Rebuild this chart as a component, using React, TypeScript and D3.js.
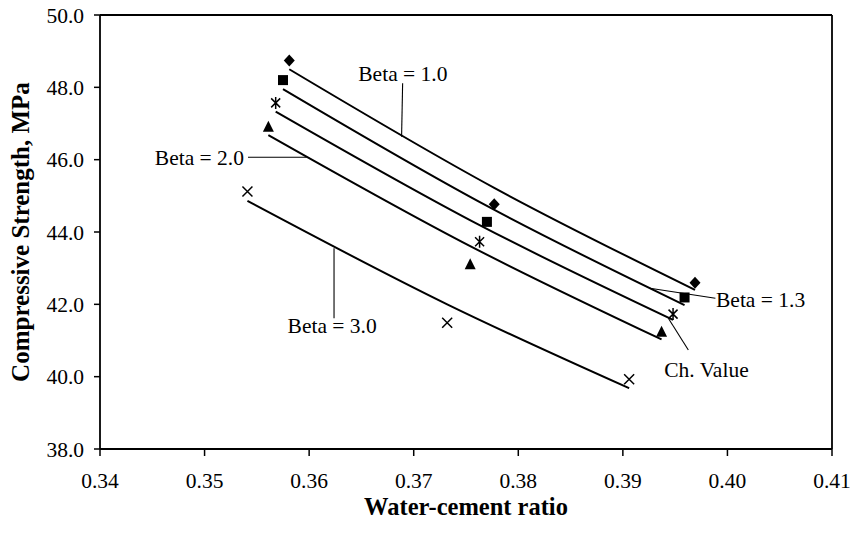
import React from "react";
import * as d3 from "d3";

// ---- data ----
const xTicks = [0.34, 0.35, 0.36, 0.37, 0.38, 0.39, 0.4, 0.41];
const yTicks = [38, 40, 42, 44, 46, 48, 50];

const diamondX = [0.3581, 0.3777, 0.3969];
const diamondY = [48.74, 44.77, 42.6];
const squareX = [0.3575, 0.377, 0.3959];
const squareY = [48.2, 44.28, 42.19];
const starX = [0.3568, 0.3763, 0.3948];
const starY = [47.57, 43.73, 41.73];
const triangleX = [0.3561, 0.3754, 0.3937];
const triangleY = [46.91, 43.11, 41.24];
const crossX = [0.3541, 0.3732, 0.3906];
const crossY = [45.12, 41.49, 39.93];

// fitted model lines (evaluated at the same w/c ratios)
const beta10Y = [48.5, 45.22, 42.4];
const beta13Y = [47.95, 44.72, 41.98];
const chValueY = [47.33, 44.19, 41.57];
const beta20Y = [46.68, 43.61, 41.03];
const beta30Y = [44.86, 42.0, 39.68];

// annotations: label, text anchor point, leader from -> to (data units)
const annLabels = ["Beta = 1.0", "Beta = 2.0", "Beta = 3.0", "Beta = 1.3", "Ch. Value"];
const annTextX = [0.3647, 0.35377, 0.35794, 0.39891, 0.39396];
const annTextY = [48.18, 45.853, 41.199, 41.935, 39.999];
const annAnchor = ["start", "end", "start", "start", "start"];
const annFromX = [0.36894, 0.35415, 0.36238, 0.39885, 0.39626];
const annFromY = [48.11, 46.065, 43.549, 42.167, 40.737];
const annToX = [0.36884, 0.35977, 0.36238, 0.39259, 0.39435];
const annToY = [46.635, 46.065, 41.614, 42.443, 41.614];

const W = 853;
const H = 540;
const M = { left: 100, right: 21, top: 15, bottom: 91 };
const FONT = "'Liberation Serif', 'Times New Roman', serif";

export default function App() {
  const x = d3.scaleLinear().domain([0.34, 0.41]).range([M.left, W - M.right]);
  const y = d3.scaleLinear().domain([38, 50]).range([H - M.bottom, M.top]);
  const line = d3
    .line<[number, number]>()
    .x((d) => x(d[0]))
    .y((d) => y(d[1]))
    .curve(d3.curveMonotoneX);

  const lines: [number[], number[]][] = [
    [diamondX, beta10Y],
    [squareX, beta13Y],
    [starX, chValueY],
    [triangleX, beta20Y],
    [crossX, beta30Y],
  ];

  const zip = (a: number[], b: number[]) => a.map((v, i) => [v, b[i]] as [number, number]);

  const x0 = x.range()[0];
  const x1 = x.range()[1];
  const y0 = y.range()[0];
  const y1 = y.range()[1];

  return (
    <svg
      width={W}
      height={H}
      style={{ position: "absolute", left: 0, top: 0, background: "#fff" }}
      fontFamily={FONT}
    >
      <rect x={0} y={0} width={W} height={H} fill="#fff" />
      {/* frame */}
      <line x1={x0} x2={x1} y1={y1} y2={y1} stroke="#000" strokeWidth={1.8} />
      <line x1={x1} x2={x1} y1={y1} y2={y0} stroke="#000" strokeWidth={1.8} />
      <line x1={x0} x2={x0} y1={y1} y2={y0} stroke="#000" strokeWidth={1.8} />
      <line x1={x0} x2={x1} y1={y0} y2={y0} stroke="#000" strokeWidth={1.8} />

      {/* y ticks */}
      {yTicks.map((t) => (
        <g key={"y" + t}>
          <line x1={x0 - 6} x2={x0} y1={y(t)} y2={y(t)} stroke="#000" strokeWidth={1.5} />
          <text x={x0 - 16} y={y(t)} dy="0.35em" textAnchor="end" fontSize={21.5}>
            {t.toFixed(1)}
          </text>
        </g>
      ))}
      {/* x ticks */}
      {xTicks.map((t) => (
        <g key={"x" + t}>
          <line x1={x(t)} x2={x(t)} y1={y0} y2={y0 + 7} stroke="#000" strokeWidth={1.5} />
          <text x={x(t)} y={y0 + 39} textAnchor="middle" fontSize={21.5}>
            {t.toFixed(2)}
          </text>
        </g>
      ))}

      {/* axis titles */}
      <text x={(x0 + x1) / 2} y={515} textAnchor="middle" fontSize={24.5} fontWeight="bold">
        Water-cement ratio
      </text>
      <text
        transform={`translate(29,${(y0 + y1) / 2}) rotate(-90)`}
        textAnchor="middle"
        fontSize={25}
        fontWeight="bold"
      >
        Compressive Strength, MPa
      </text>

      {/* model lines */}
      {lines.map(([xs, ys], i) => (
        <path key={"l" + i} d={line(zip(xs, ys)) || ""} fill="none" stroke="#000" strokeWidth={2} />
      ))}

      {/* markers */}
      {zip(diamondX, diamondY).map((d, i) => (
        <path
          key={"d" + i}
          transform={`translate(${x(d[0])},${y(d[1])})`}
          d="M0,-6L5.5,0L0,6L-5.5,0Z"
          fill="#000"
        />
      ))}
      {zip(squareX, squareY).map((d, i) => (
        <rect key={"s" + i} x={x(d[0]) - 5} y={y(d[1]) - 5} width={10} height={10} fill="#000" />
      ))}
      {zip(starX, starY).map((d, i) => (
        <path
          key={"a" + i}
          transform={`translate(${x(d[0])},${y(d[1])})`}
          d="M-4.5,-4.5L4.5,4.5M-4.5,4.5L4.5,-4.5M0,-6L0,6"
          stroke="#000"
          strokeWidth={1.5}
          fill="none"
        />
      ))}
      {zip(triangleX, triangleY).map((d, i) => (
        <path
          key={"t" + i}
          transform={`translate(${x(d[0])},${y(d[1])})`}
          d="M0,-6L5.5,5L-5.5,5Z"
          fill="#000"
        />
      ))}
      {zip(crossX, crossY).map((d, i) => (
        <path
          key={"c" + i}
          transform={`translate(${x(d[0])},${y(d[1])})`}
          d="M-5,-5L5,5M-5,5L5,-5"
          stroke="#000"
          strokeWidth={1.5}
          fill="none"
        />
      ))}

      {/* annotations */}
      {annLabels.map((lab, i) => (
        <g key={"n" + i}>
          <line
            x1={x(annFromX[i])}
            y1={y(annFromY[i])}
            x2={x(annToX[i])}
            y2={y(annToY[i])}
            stroke="#000"
            strokeWidth={1.1}
          />
          <text
            x={x(annTextX[i])}
            y={y(annTextY[i])}
            textAnchor={annAnchor[i] as any}
            fontSize={21.5}
          >
            {lab}
          </text>
        </g>
      ))}
    </svg>
  );
}
